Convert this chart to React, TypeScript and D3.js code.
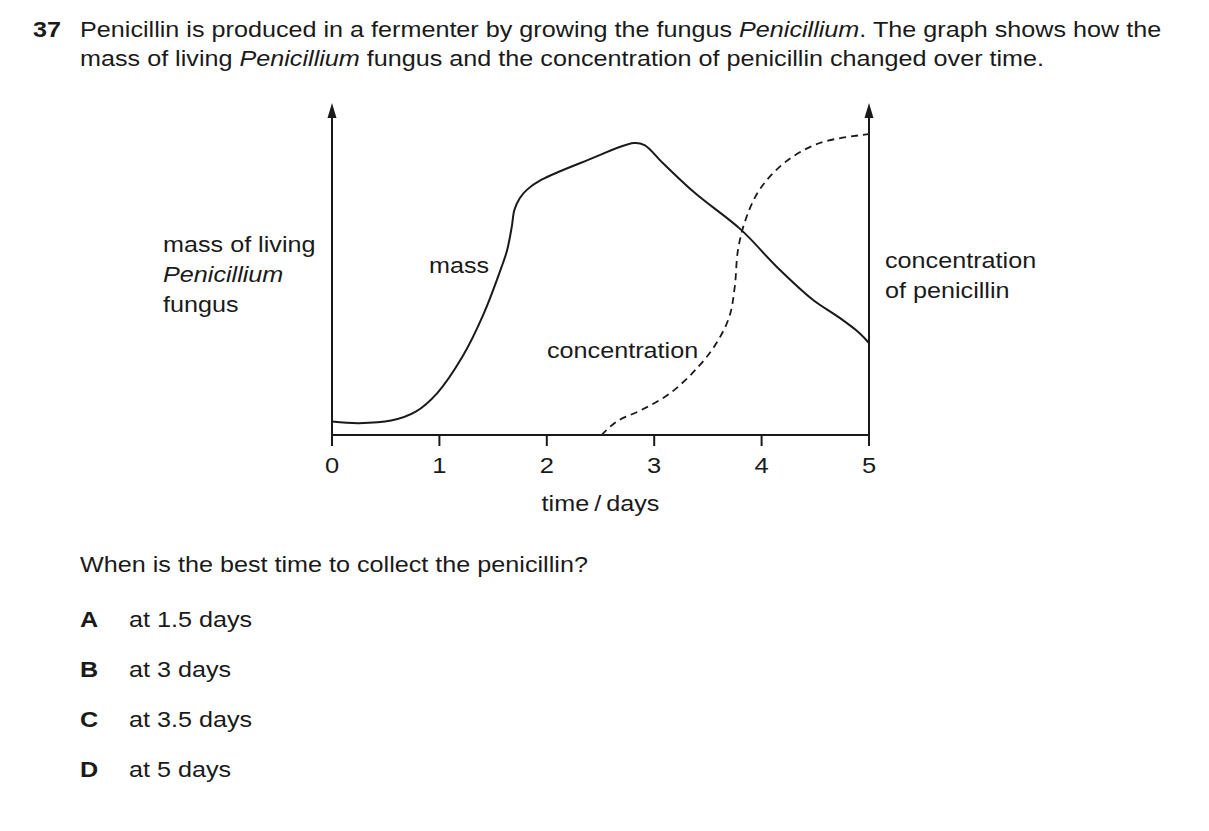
import React from "react";
import * as d3 from "d3";

const xTicks = [0, 1, 2, 3, 4, 5];

const massDays = [0, 0.25, 0.55, 0.78, 0.98, 1.215, 1.415, 1.58, 1.631, 1.674, 1.698, 1.748, 1.814, 1.947, 2.38, 2.81, 2.91, 3.08, 3.38, 3.81, 4.14, 4.48, 4.71, 4.91, 5.0];
const massValues = [4.2, 3.7, 4.5, 7.3, 13.1, 24.5, 38.1, 52.6, 57.8, 65.1, 70.3, 74.0, 76.6, 79.7, 85.9, 91.25, 90.6, 85, 75.6, 64.1, 52.6, 42.2, 37, 31.9, 28.75];

const concDays = [2.51, 2.65, 2.88, 3.15, 3.41, 3.58, 3.7, 3.75, 3.78, 3.85, 3.98, 4.21, 4.54, 5.0];
const concValues = [0, 4.2, 7.8, 13.1, 21.3, 28.75, 37, 46.3, 57.8, 67.2, 76.6, 85, 91.25, 94];

const options = [
  { letter: "A", text: "at 1.5 days" },
  { letter: "B", text: "at 3 days" },
  { letter: "C", text: "at 3.5 days" },
  { letter: "D", text: "at 5 days" },
];

const SX = 1.16;

function T(props: {
  x: number;
  y: number;
  anchor?: string;
  size?: number;
  weight?: string;
  italic?: boolean;
  children: React.ReactNode;
}) {
  const { x, y, anchor = "start", size = 21.7, weight, italic, children } = props;
  return (
    <text
      transform={`translate(${x},${y}) scale(${SX},1)`}
      textAnchor={anchor}
      fontSize={size}
      fontWeight={weight}
      fontStyle={italic ? "italic" : undefined}
      fill="#1a1a1a"
    >
      {children}
    </text>
  );
}

export default function App() {
  const x = d3.scaleLinear().domain([0, 5]).range([332, 869]);
  const y = d3.scaleLinear().domain([0, 100]).range([435, 115]);

  const line = d3
    .line<[number, number]>()
    .x((d) => x(d[0]))
    .y((d) => y(d[1]))
    .curve(d3.curveCatmullRom.alpha(0.5));

  const massPath = line(massDays.map((d, i) => [d, massValues[i]]));
  const concPath = line(concDays.map((d, i) => [d, concValues[i]]));

  const font = "'Liberation Sans', Arial, sans-serif";
  const axisTop = 103;
  const axisBottom = y(0);

  const arrow = (cx: number) =>
    `M${cx},${axisTop} L${cx - 4.5},${axisTop + 15} L${cx + 4.5},${axisTop + 15} Z`;

  return (
    <svg
      width={1209}
      height={831}
      style={{ position: "absolute", left: 0, top: 0, background: "#fff" }}
      fontFamily={font}
    >
      <rect x={0} y={0} width={1209} height={831} fill="#fff" />
      {/* title */}
      <T x={33} y={37} weight="bold">37</T>
      <T x={80} y={37}>
        Penicillin is produced in a fermenter by growing the fungus{" "}
        <tspan fontStyle="italic">Penicillium</tspan>. The graph shows how the
      </T>
      <T x={80} y={66}>
        mass of living <tspan fontStyle="italic">Penicillium</tspan> fungus and the concentration of penicillin changed over time.
      </T>

      {/* axes */}
      <line x1={x(0)} x2={x(0)} y1={axisBottom} y2={axisTop + 10} stroke="#1a1a1a" strokeWidth={2} />
      <path d={arrow(x(0))} fill="#1a1a1a" />
      <line x1={x(5)} x2={x(5)} y1={axisBottom} y2={axisTop + 10} stroke="#1a1a1a" strokeWidth={2} />
      <path d={arrow(x(5))} fill="#1a1a1a" />
      <line x1={x(0)} x2={x(5)} y1={axisBottom} y2={axisBottom} stroke="#1a1a1a" strokeWidth={2} />
      {xTicks.map((t) => (
        <g key={t}>
          <line x1={x(t)} x2={x(t)} y1={axisBottom} y2={axisBottom + 11} stroke="#1a1a1a" strokeWidth={2} />
          <T x={x(t)} y={axisBottom + 38} anchor="middle" size={22}>{t}</T>
        </g>
      ))}
      <T x={x(2.5)} y={511} anchor="middle">time{"\u2009"}/{"\u2009"}days</T>

      {/* curves */}
      <path d={massPath || ""} fill="none" stroke="#1a1a1a" strokeWidth={2} />
      <path d={concPath || ""} fill="none" stroke="#1a1a1a" strokeWidth={1.8} strokeDasharray="7,5" />

      {/* labels */}
      <T x={163} y={252}>mass of living</T>
      <T x={163} y={282} italic>Penicillium</T>
      <T x={163} y={312}>fungus</T>
      <T x={885} y={268}>concentration</T>
      <T x={885} y={298}>of penicillin</T>
      <T x={429} y={273}>mass</T>
      <T x={547} y={358}>concentration</T>

      {/* question */}
      <T x={80} y={572}>When is the best time to collect the penicillin?</T>
      {options.map((o, i) => (
        <g key={o.letter}>
          <T x={80} y={627 + i * 50} weight="bold">{o.letter}</T>
          <T x={129} y={627 + i * 50}>{o.text}</T>
        </g>
      ))}
    </svg>
  );
}
